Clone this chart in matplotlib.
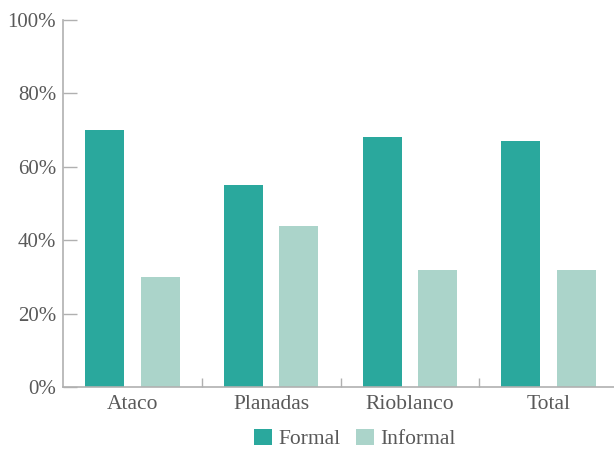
import numpy as np
import matplotlib.pyplot as plt
from matplotlib.ticker import FuncFormatter

plt.rcParams['font.family'] = ['Liberation Serif', 'DejaVu Serif']

# share of producers by sale channel
regions = ["Ataco", "Planadas", "Rioblanco", "Total"]
formal = [70, 55, 68, 67]
informal = [30, 44, 32, 32]

c_formal = "#2aa89d"
c_informal = "#abd4ca"
grey_text = "#595959"
grey_line = "#b0b0b0"

fig = plt.figure(figsize=(6.14, 4.49), dpi=100)
ax = fig.add_axes([63 / 614, 1 - 387 / 449, 555 / 614, 367 / 449])

x = np.arange(len(regions))
w = 0.28
ax.bar(x - 0.2, formal, width=w, color=c_formal, label="Formal", zorder=2)
ax.bar(x + 0.2, informal, width=w, color=c_informal, label="Informal", zorder=2)

ax.set_xlim(-0.5, len(regions) - 0.5)
ax.set_ylim(0, 100)
ax.set_yticks(np.arange(0, 101, 20))
ax.yaxis.set_major_formatter(FuncFormatter(lambda v, p: f"{v:.0f}%"))

ax.set_xticks(x)
ax.set_xticklabels(regions)
ax.set_xticks(x[:-1] + 0.5, minor=True)

for s in ["top", "right"]:
    ax.spines[s].set_visible(False)
for s in ["left", "bottom"]:
    ax.spines[s].set_color(grey_line)
    ax.spines[s].set_linewidth(1.2)
    ax.spines[s].set_zorder(3)

ax.tick_params(axis="y", direction="in", length=10, width=1, color=grey_line,
               labelsize=15, labelcolor=grey_text, pad=5)
ax.tick_params(axis="x", which="major", length=0, labelsize=15.5,
               labelcolor=grey_text, pad=6)
ax.tick_params(axis="x", which="minor", direction="in", length=6.5,
               width=1, color=grey_line)

fig.legend(loc="center", bbox_to_anchor=(355 / 614, 1 - 439 / 449), ncol=2,
           frameon=False, fontsize=15.5, handlelength=0.8, handleheight=0.8,
           handletextpad=0.3, columnspacing=0.75, labelcolor=grey_text,
           borderpad=0.1)

fig.savefig("out.png", dpi=100)
